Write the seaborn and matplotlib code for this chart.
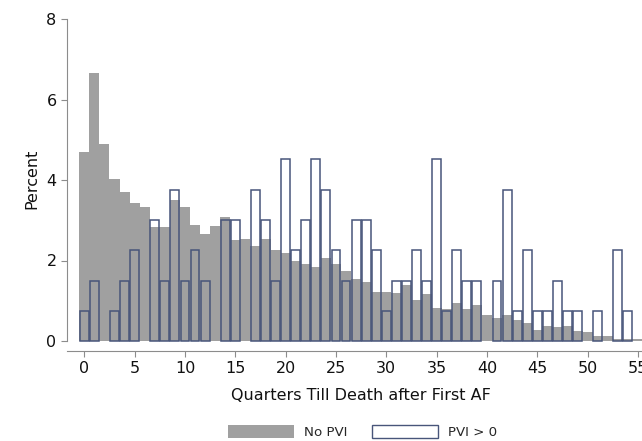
import numpy as np
import pandas as pd
import matplotlib
matplotlib.use("Agg")
import matplotlib.pyplot as plt
from matplotlib.patches import Patch
import seaborn as sns

# Quarter bins (0..55) and percent shares
quarters = list(range(56))

no_pvi = [4.69, 6.65, 4.89, 4.02, 3.70, 3.44, 3.34, 2.83, 2.82, 3.51,
          3.32, 2.89, 2.67, 2.86, 3.08, 2.51, 2.54, 2.37, 2.53, 2.27,
          2.18, 1.98, 1.91, 1.84, 2.05, 1.91, 1.74, 1.55, 1.46, 1.21,
          1.21, 1.19, 1.40, 1.03, 1.16, 0.82, 0.79, 0.95, 0.79, 0.89,
          0.64, 0.56, 0.64, 0.53, 0.44, 0.27, 0.37, 0.34, 0.37, 0.24,
          0.22, 0.13, 0.13, 0.05, 0.05, 0.04]

pvi_pos = [0.75, 1.50, 0.00, 0.75, 1.50, 2.25, 0.00, 3.00, 1.50, 3.76,
           1.50, 2.25, 1.50, 0.00, 3.00, 3.00, 0.00, 3.76, 3.00, 1.50,
           4.51, 2.25, 3.00, 4.51, 3.76, 2.25, 1.50, 3.00, 3.00, 2.25,
           0.75, 1.50, 1.50, 2.25, 1.50, 4.51, 0.75, 2.25, 1.50, 1.50,
           0.00, 1.50, 3.76, 0.75, 2.25, 0.75, 0.75, 1.50, 0.75, 0.75,
           0.00, 0.75, 0.00, 2.25, 0.75, 0.00]

x_ticks = [0, 5, 10, 15, 20, 25, 30, 35, 40, 45, 50, 55]
y_ticks = [0, 2, 4, 6, 8]

gray = "#a0a0a0"
navy = "#48557a"
axis_gray = "#8c8c8c"

df = pd.DataFrame({"quarter": quarters, "no_pvi": no_pvi, "pvi": pvi_pos})

sns.set_theme(style="white")
plt.rcParams["font.family"] = ["DejaVu Sans"]

fig = plt.figure(figsize=(6.42, 4.41), dpi=100)
W, H = 642, 441
ax = fig.add_axes([67 / W, (H - 341) / H, (W - 67) / W, 322 / H])

sns.histplot(data=df, x="quarter", weights="no_pvi", discrete=True,
             color=gray, alpha=1, linewidth=0, ax=ax)
n_gray = len(ax.patches)
sns.histplot(data=df, x="quarter", weights="pvi", discrete=True, shrink=0.88,
             fill=False, color=navy, linewidth=1.1, ax=ax)

# drop empty outline bins, keep bars unclipped at the baseline
for p in list(ax.patches[n_gray:]):
    if abs(p.get_height()) < 1e-9:
        p.remove()
    else:
        p.set_clip_on(False)

ax.set_xlim(-1.72, 55.4)
ax.set_ylim(0, 8)
ax.set_xticks(x_ticks)
ax.set_yticks(y_ticks)
ax.set_yticklabels([str(v) for v in y_ticks])

for side in ["top", "right"]:
    ax.spines[side].set_visible(False)
ax.spines["left"].set_bounds(0, 8)
ax.spines["bottom"].set_position(("outward", 7.2))
for side in ["left", "bottom"]:
    ax.spines[side].set_color(axis_gray)
    ax.spines[side].set_linewidth(0.8)

ax.tick_params(axis="both", which="major", direction="out", length=4.5,
               width=0.8, color=axis_gray, labelsize=11.5, labelcolor="#111111",
               left=True, bottom=True)
ax.tick_params(axis="y", pad=3)
ax.tick_params(axis="x", pad=2.5)

ax.set_ylabel("Percent", fontsize=11.5, color="#111111")
ax.yaxis.label.set_va("baseline")
ax.yaxis.set_label_coords((36.7 - 67) / 575, 0.503)
ax.set_xlabel("Quarters Till Death after First AF", fontsize=11.5, color="#111111")
ax.xaxis.label.set_va("baseline")
ax.xaxis.set_label_coords(0.511, (341 - 400) / 322)

handles = [Patch(facecolor=gray, edgecolor=gray, linewidth=0),
           Patch(facecolor="white", edgecolor=navy, linewidth=1.0)]
fig.legend(handles, ["No PVI", "PVI > 0"], loc="center",
           bbox_to_anchor=(362.5 / W, (H - 432) / H), ncol=2, frameon=False,
           fontsize=9.6, handlelength=4.9, handleheight=1.05,
           handletextpad=0.75, columnspacing=1.9, borderaxespad=0)

fig.savefig("out.png", dpi=100)
